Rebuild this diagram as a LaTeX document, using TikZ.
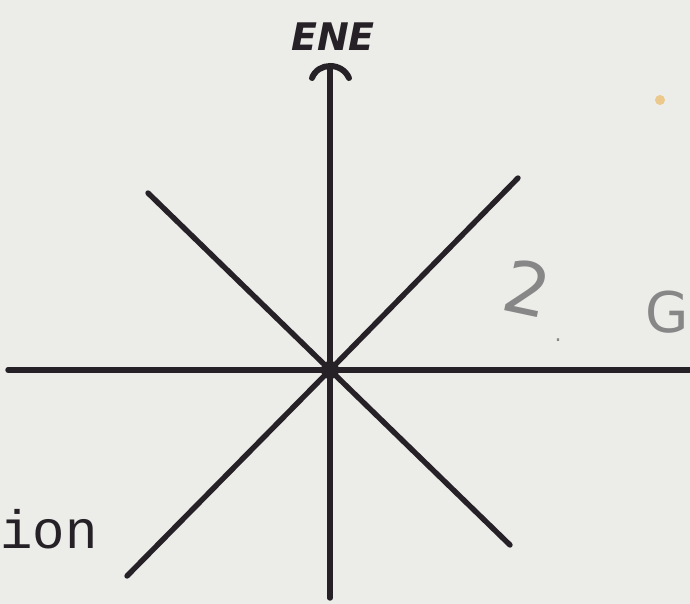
\documentclass[tikz,border=0pt]{standalone}
\usepackage{fontspec}
\newfontfamily\monofont{Liberation Mono}
\newfontfamily\handfont{DejaVu Sans}
\definecolor{paper}{RGB}{236,236,233}
\definecolor{ink}{RGB}{38,33,38}
\definecolor{pencil}{RGB}{135,135,135}
\definecolor{dotc}{RGB}{235,200,140}
\begin{document}
\begin{tikzpicture}[x=1pt,y=-1pt,
  axis/.style={draw=ink,line width=5.4pt,line cap=round},
  hand/.style={text=ink,inner sep=0pt},
  pencilnote/.style={text=pencil,inner sep=0pt}]
\fill[paper] (0,0) rectangle (690,604);
\useasboundingbox (0,0) rectangle (690,604);
\coordinate (c) at (330,370);
\coordinate (top) at (330,68);
\coordinate (bot) at (330,598);
\coordinate (left) at (8,370);
\coordinate (right) at (692,370);
\coordinate (ul) at (148,193);
\coordinate (ur) at (518,178);
\coordinate (lr) at (510,545);
\coordinate (ll) at (127,576);
\draw[axis] (c) -- (top);
\draw[axis] (c) -- (bot);
\draw[axis] (c) -- (left);
\draw[axis] (c) -- (right);
\draw[axis] (c) -- (ul);
\draw[axis] (c) -- (ur);
\draw[axis] (c) -- (lr);
\draw[axis] (c) -- (ll);
\fill[ink] (c) circle (9);
\coordinate (capl) at (312,78);
\coordinate (capr) at (349,78);
\draw[axis,line width=6pt] (capl) .. controls (318,62) and (342,62) .. (capr);
\node[hand,font=\handfont\bfseries\itshape\fontsize{38}{38}\selectfont] (ene) at (333,37) {ENE};
\node[hand,font=\monofont\fontsize{54}{54}\selectfont,anchor=base west] (ion) at (0,548) {ion};
\node[pencilnote,font=\handfont\fontsize{72}{72}\selectfont,rotate=-12] (two) at (527,288) {2};
\node[pencilnote,font=\handfont\fontsize{22}{22}\selectfont] (dot) at (558,340) {.};
\node[pencilnote,font=\handfont\fontsize{56}{56}\selectfont,anchor=east] (g) at (689,312) {G};
\fill[dotc] (660,100) circle (5);
\end{tikzpicture}
\end{document}
